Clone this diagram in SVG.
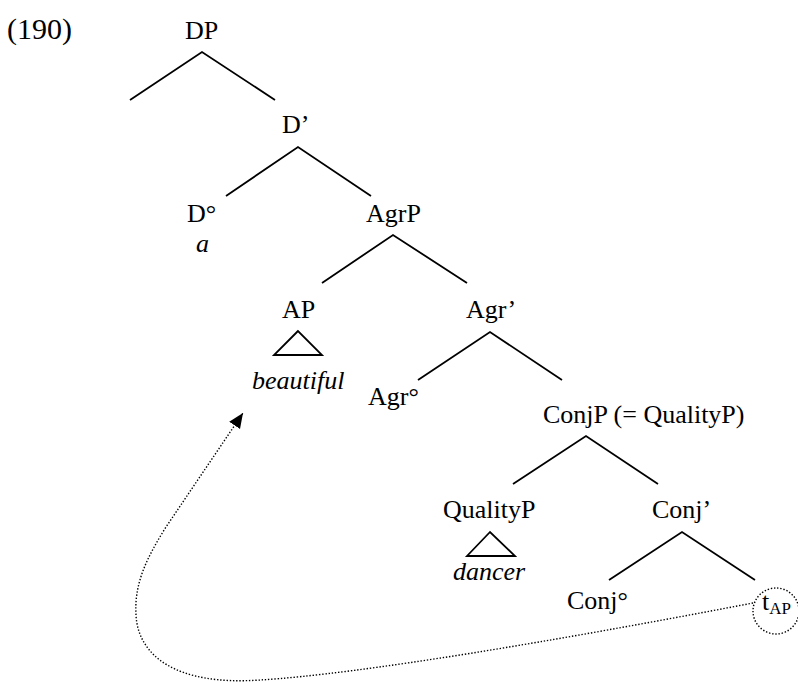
<svg xmlns="http://www.w3.org/2000/svg" width="798" height="682" viewBox="0 0 798 682">
  <style>
    text { font-family: "Liberation Serif", "Times New Roman", serif; font-size: 26px; fill: #000; }
    .it { font-style: italic; }
    .sub { font-size: 17px; }
    .num { font-size: 30px; }
    .branch { stroke: #000; stroke-width: 1.8; fill: none; stroke-linecap: butt; }
    .tri { stroke: #000; stroke-width: 1.8; fill: none; stroke-linejoin: miter; }
    .dots { stroke: #000; stroke-width: 1.4; fill: none; stroke-dasharray: 1.4 1.8; }
  </style>
  <defs>
    <marker id="arrow" markerUnits="userSpaceOnUse" markerWidth="17" markerHeight="15" refX="15" refY="6.5" orient="auto">
      <path d="M0,0 L15,6.5 L0,13 Z" fill="#000"/>
    </marker>
  </defs>
  <rect width="798" height="682" fill="#fff"/>

  <text class="num" x="7" y="39">(190)</text>

  <!-- tree branches -->
  <g id="connectors">
    <path class="branch" d="M130,100 L202,52 L275,100"/>
    <path class="branch" d="M226,196 L298,147 L371,196"/>
    <path class="branch" d="M322,283 L393,235 L467,283"/>
    <path class="branch" d="M418,380 L490,332 L562,380"/>
    <path class="branch" d="M513,484 L586,436 L658,484"/>
    <path class="branch" d="M609,580 L682,532 L755,580"/>
    <!-- movement of AP from its trace -->
    <path class="dots" d="M753,603 C560,640 360,674 260,680 C175,686 138,655 136,615 C134,582 148,556 166,527 L243,413" marker-end="url(#arrow)"/>
  </g>

  <g id="DP"><text x="185" y="39">DP</text></g>
  <g id="Dbar"><text x="282" y="133">D’</text></g>
  <g id="D0"><text x="187" y="222">D°</text><text class="it" x="196" y="252">a</text></g>
  <g id="AgrP"><text x="366" y="222">AgrP</text></g>
  <g id="AP">
    <text x="282" y="318">AP</text>
    <path class="tri" d="M298,331 L274,355 L322,355 Z"/>
    <text class="it" x="252" y="389">beautiful</text>
  </g>
  <g id="Agrbar"><text x="466" y="318">Agr’</text></g>
  <g id="Agr0"><text x="368" y="405">Agr°</text></g>
  <g id="ConjP"><text x="543" y="423">ConjP (= QualityP)</text></g>
  <g id="QualityP">
    <text x="443" y="518">QualityP</text>
    <path class="tri" d="M490,532 L467,556 L515,556 Z"/>
    <text class="it" x="453" y="580">dancer</text>
  </g>
  <g id="Conjbar"><text x="652" y="518">Conj’</text></g>
  <g id="Conj0"><text x="567" y="609">Conj°</text></g>
  <g id="trace">
    <circle class="dots" cx="776" cy="611" r="23"/>
    <text x="762" y="610">t<tspan class="sub" dy="4">AP</tspan></text>
  </g>
</svg>
